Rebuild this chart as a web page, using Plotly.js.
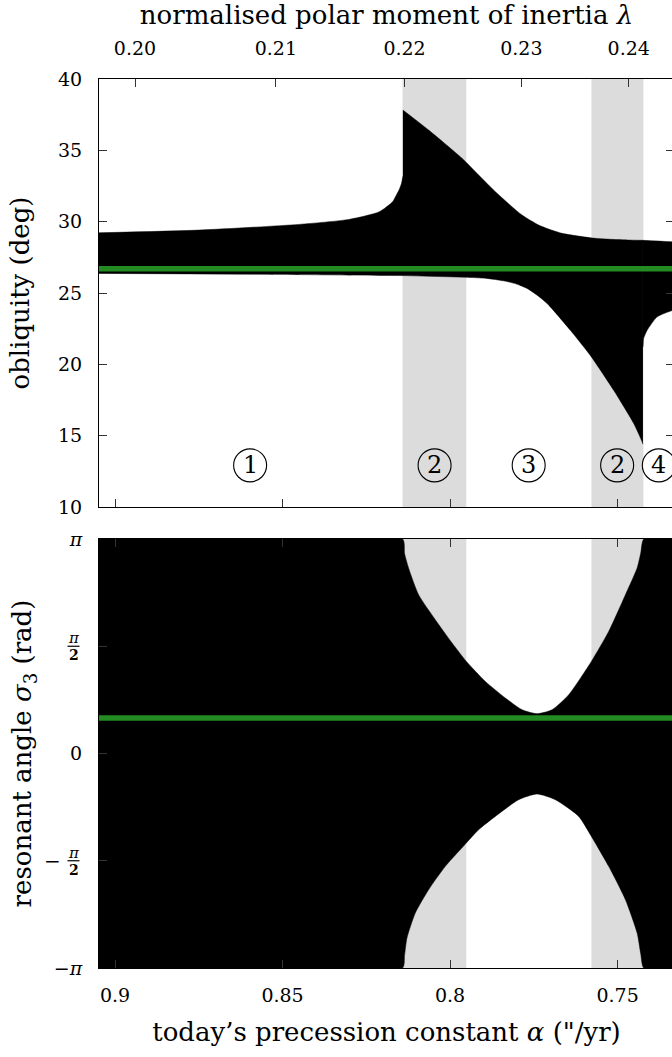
<!DOCTYPE html>
<html>
<head>
<meta charset="utf-8">
<script src="https://cdn.plot.ly/plotly-3.0.1.min.js"></script>
<style>html,body{margin:0;padding:0;background:#fff;overflow:hidden;}#plot{width:674px;height:1057px;}</style>
</head>
<body>
<div id="plot"></div>
<script>
// ---- data ----
const alphaRange = [0.90478, 0.73318];
const alphaTicks = [0.9, 0.85, 0.8, 0.75];
const alphaTickText = ['0.9', '0.85', '0.8', '0.75'];
const lambdaTickText = ['0.20', '0.21', '0.22', '0.23', '0.24'];
const lambdaTickAlpha = [0.89403, 0.85200, 0.81359, 0.77873, 0.74668];

// grey bands (regime 2), in alpha
const bandStart = [0.81419, 0.75783];
const bandEnd = [0.79516, 0.74230];

// obliquity envelope (deg), in three pieces separated by the two jumps
const upper1Alpha = [0.90478, 0.87491, 0.84504, 0.83011, 0.82115, 0.81718, 0.81607, 0.81518, 0.81449, 0.81410, 0.81398];
const upper1 = [29.22, 29.41, 29.81, 30.16, 30.69, 31.39, 31.85, 32.25, 32.70, 33.15, 33.20];
const lower1Alpha = [0.90478, 0.85968, 0.81410, 0.81398];
const lower1 = [26.37, 26.32, 26.22, 26.22];
const upper2Alpha = [0.81410, 0.80642, 0.79644, 0.79149, 0.78650, 0.77853, 0.77357, 0.77058, 0.76658, 0.75663, 0.74668, 0.74245];
const upper2 = [37.83, 36.42, 34.44, 33.27, 32.10, 30.46, 29.76, 29.48, 29.18, 28.83, 28.71, 28.69];
const lower2Alpha = [0.81410, 0.79397, 0.78898, 0.78402, 0.78002, 0.77703, 0.77404, 0.77106, 0.76410, 0.75783, 0.75117, 0.74519, 0.74268, 0.74245];
const lower2 = [26.22, 26.09, 26.02, 25.85, 25.62, 25.32, 24.85, 24.27, 22.39, 20.52, 18.18, 15.85, 14.56, 14.40];
const upper3Alpha = [0.74257, 0.74245, 0.73318];
const upper3 = [28.69, 28.69, 28.58];
const lower3Alpha = [0.74257, 0.74245, 0.74225, 0.74119, 0.73820, 0.73318];
const lower3 = [21.22, 21.22, 21.81, 22.39, 23.33, 23.82];
const todayObliquity = 26.7;

// resonant angle envelope (rad): boundary of the upper and lower empty regions
const sigmaUpperAlpha = [0.81419, 0.81360, 0.81240, 0.80941, 0.80442, 0.79943, 0.79516, 0.78949, 0.78351, 0.77853, 0.77405, 0.76957, 0.76460, 0.75783, 0.75266, 0.74767, 0.74418, 0.74310, 0.74220];
const sigmaUpper = [3.1416, 2.93, 2.717, 2.326, 1.96, 1.62, 1.349, 1.056, 0.813, 0.641, 0.583, 0.641, 0.861, 1.349, 1.788, 2.326, 2.717, 2.936, 3.1416];
const sigmaLowerAlpha = [0.81419, 0.81360, 0.81287, 0.81039, 0.80642, 0.80143, 0.79516, 0.79149, 0.78650, 0.77954, 0.77405, 0.76858, 0.76162, 0.75783, 0.75266, 0.74767, 0.74418, 0.74310, 0.74220];
const sigmaLower = [-3.1416, -2.96, -2.70, -2.336, -1.995, -1.653, -1.311, -1.116, -0.921, -0.677, -0.593, -0.677, -0.921, -1.214, -1.653, -2.141, -2.629, -2.936, -3.1416];
const todaySigma = 0.52;

// regime labels
const regimeLabels = ['1', '2', '3', '2', '4'];
const regimeAlpha = [0.85968, 0.80463, 0.77655, 0.75015, 0.73772];
const regimeObliq = 12.92;

// ---- build ----
const PI = Math.PI;
const FONT = 'DejaVu Serif';
const a0 = alphaRange[0], a1 = alphaRange[1];
const SM = 0.6;

function band(xl, yl, xu, yu, xa, ya) {
  return [
    {x: xl, y: yl, xaxis: xa, yaxis: ya, type: 'scatter', mode: 'lines',
     line: {color: '#000', width: 0.5, shape: 'spline', smoothing: SM}, hoverinfo: 'skip'},
    {x: xu, y: yu, xaxis: xa, yaxis: ya, type: 'scatter', mode: 'lines', fill: 'tonexty', fillcolor: '#000',
     line: {color: '#000', width: 0.5, shape: 'spline', smoothing: SM}, hoverinfo: 'skip'}
  ];
}

// bottom panel boundaries: -pi / +pi outside the libration zone
const botUpX = [a0].concat(sigmaUpperAlpha, [a1]);
const botUpY = [PI].concat(sigmaUpper, [PI]);
const botLoX = [a0].concat(sigmaLowerAlpha, [a1]);
const botLoY = [-PI].concat(sigmaLower, [-PI]);

let traces = [];
traces = traces.concat(band(lower1Alpha, lower1, upper1Alpha, upper1, 'x2', 'y'));
traces = traces.concat(band(lower2Alpha, lower2, upper2Alpha, upper2, 'x2', 'y'));
traces = traces.concat(band(lower3Alpha, lower3, upper3Alpha, upper3, 'x2', 'y'));
traces.push({x: [a0, a1], y: [todayObliquity, todayObliquity], xaxis: 'x2', yaxis: 'y', type: 'scatter', mode: 'lines',
             line: {color: 'rgb(34,139,34)', width: 5.5}, hoverinfo: 'skip'});
traces = traces.concat(band(botLoX, botLoY, botUpX, botUpY, 'x', 'y2'));
traces.push({x: [a0, a1], y: [todaySigma, todaySigma], xaxis: 'x', yaxis: 'y2', type: 'scatter', mode: 'lines',
             line: {color: 'rgb(34,139,34)', width: 5.5}, hoverinfo: 'skip'});
// carrier for the top lambda axis (draws nothing)
traces.push({x: lambdaTickAlpha, y: lambdaTickAlpha.map(() => null), xaxis: 'x3', yaxis: 'y', type: 'scatter',
             mode: 'lines', line: {width: 0}, hoverinfo: 'skip'});

const shapes = [];
for (let i = 0; i < bandStart.length; i++) {
  shapes.push({type: 'rect', layer: 'below', xref: 'x2', yref: 'y domain', x0: bandStart[i], x1: bandEnd[i], y0: 0, y1: 1,
               fillcolor: '#dcdcdc', line: {width: 0}});
  shapes.push({type: 'rect', layer: 'below', xref: 'x', yref: 'y2 domain', x0: bandStart[i], x1: bandEnd[i], y0: 0, y1: 1,
               fillcolor: '#dcdcdc', line: {width: 0}});
}
const annotations = [];
for (let i = 0; i < regimeLabels.length; i++) {
  shapes.push({type: 'circle', xref: 'x2', yref: 'y', xsizemode: 'pixel', ysizemode: 'pixel',
               xanchor: regimeAlpha[i], yanchor: regimeObliq, x0: -16.5, x1: 16.5, y0: -16.5, y1: 16.5,
               line: {color: '#000', width: 1.1}});
  annotations.push({xref: 'x2', yref: 'y', x: regimeAlpha[i], y: regimeObliq, text: regimeLabels[i], showarrow: false,
                    xanchor: 'center', yanchor: 'middle', font: {family: FONT, size: 24, color: '#000'}});
}
// fraction tick labels for +-pi/2
const W = 575;
const px = v => (v - 99) / W;
[1, -1].forEach(s => {
  annotations.push({xref: 'paper', yref: 'y2', x: px(73.5), y: s * PI / 2, yshift: 8, text: '<i>π</i>', showarrow: false,
                    xanchor: 'center', yanchor: 'middle', font: {family: FONT, size: 15, color: '#000'}});
  annotations.push({xref: 'paper', yref: 'y2', x: px(73.5), y: s * PI / 2, yshift: -9, text: '<b>2</b>', showarrow: false,
                    xanchor: 'center', yanchor: 'middle', font: {family: FONT, size: 14, color: '#000'}});
  shapes.push({type: 'line', xref: 'paper', yref: 'y2', x0: px(67.5), x1: px(79.5), y0: s * PI / 2, y1: s * PI / 2,
               line: {color: '#000', width: 1.2}});
});
annotations.push({xref: 'paper', yref: 'y2', x: px(52), y: -PI / 2, text: '−', showarrow: false,
                  xanchor: 'center', yanchor: 'middle', font: {family: FONT, size: 20, color: '#000'}});

const axCommon = {ticks: 'inside', ticklen: 8, tickwidth: 1, tickcolor: '#333', showline: true, linecolor: '#000',
                  linewidth: 1, zeroline: false, showgrid: false, ticklabelstandoff: 12,
                  tickfont: {family: FONT, size: 19, color: '#000'}};

const layout = {
  width: 674, height: 1057,
  margin: {l: 99, r: 0, t: 79, b: 89},
  paper_bgcolor: '#fff', plot_bgcolor: 'rgba(0,0,0,0)',
  showlegend: false,
  font: {family: FONT, color: '#000', size: 19},
  xaxis: Object.assign({}, axCommon, {anchor: 'y2', domain: [0, 1], range: alphaRange, tickmode: 'array',
         tickvals: alphaTicks, ticktext: alphaTickText, mirror: 'ticks', ticklabelstandoff: 10,
         title: {text: 'today’s precession constant <i>α</i> ("/yr)', font: {family: FONT, size: 26}, standoff: 18}}),
  xaxis2: Object.assign({}, axCommon, {anchor: 'y', domain: [0, 1], range: alphaRange, matches: 'x', tickmode: 'array',
          tickvals: alphaTicks, ticktext: alphaTickText, showticklabels: false, mirror: true}),
  xaxis3: Object.assign({}, axCommon, {anchor: 'y', overlaying: 'x2', side: 'top', range: alphaRange, tickmode: 'array',
          tickvals: lambdaTickAlpha, ticktext: lambdaTickText, ticklabelstandoff: 15,
          title: {text: 'normalised polar moment of inertia <i>λ</i>', font: {family: FONT, size: 26}, standoff: 10}}),
  yaxis: Object.assign({}, axCommon, {anchor: 'x2', domain: [0.51856, 1], range: [10, 40], tickmode: 'array',
         tickvals: [10, 15, 20, 25, 30, 35, 40], mirror: 'ticks',
         title: {text: 'obliquity (deg)', font: {family: FONT, size: 26}, standoff: 20}}),
  yaxis2: Object.assign({}, axCommon, {anchor: 'x', domain: [0, 0.48256], range: [-PI, PI], tickmode: 'array',
          tickvals: [-PI, -PI / 2, 0, PI / 2, PI],
          ticktext: ['−<i>π</i>', '', '0', '', '<i>π</i>'],
          title: {text: 'resonant angle <i>σ</i><sub>3</sub> (rad)', font: {family: FONT, size: 26}, standoff: 14}}),
  shapes: shapes,
  annotations: annotations
};

Plotly.newPlot('plot', traces, layout, {staticPlot: true, displayModeBar: false});
</script>
</body>
</html>
